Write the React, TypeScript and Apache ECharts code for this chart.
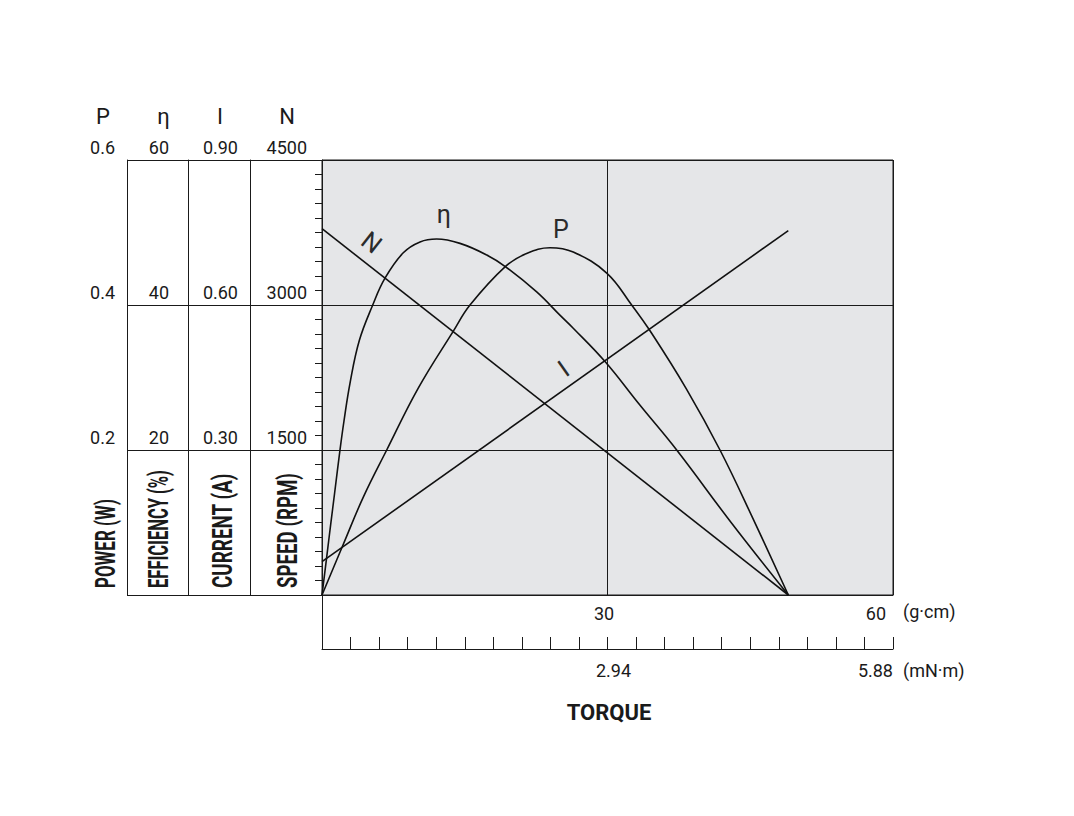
import React, { useEffect, useRef } from 'react';
import * as echarts from 'echarts';

// ---------- data (torque in g·cm) ----------
const speedTorque = [0, 49.0];
const speedRpm = [3790, 0];

const currentTorque = [0, 49.0];
const currentAmp = [0.069, 0.754];

const effTorque = [0, 0.49, 0.91, 1.33, 1.89, 2.31, 2.94, 3.92, 5.33, 6.62, 8.54, 10.3, 12.05, 14.5, 17.31, 19.26, 22.56, 25.0, 26.4, 29.74, 33.4, 37.27, 43.05, 49.0];
const effPct = [0, 5.2, 9.7, 14.1, 20.0, 24.0, 29.2, 35.1, 40.0, 43.7, 47.2, 48.7, 49.1, 48.5, 46.9, 45.3, 41.8, 38.6, 36.8, 32.2, 26.2, 20.0, 9.9, 0];

const powerTorque = [0, 2.24, 4.34, 6.8, 10.1, 13.8, 15.55, 19.26, 21.5, 23.96, 26.4, 29.92, 32.54, 34.64, 38.3, 41.82, 45.3, 49.0];
const powerW = [0, 0.07, 0.135, 0.2, 0.285, 0.364, 0.4, 0.453, 0.471, 0.479, 0.473, 0.444, 0.4, 0.361, 0.284, 0.2, 0.105, 0];

// tick labels
const gcmTickLabels: Record<number, string> = { 30: '30', 60: '60' };
const mNmTickLabels: Record<number, string> = { 30: '2.94', 60: '5.88' };
const axisHeads = ['P', 'η', 'I', 'N'];
const axisTitles = ['POWER (W)', 'EFFICIENCY (%)', 'CURRENT (A)', 'SPEED (RPM)'];
const unitGcm = '(g·cm)';
const unitMNm = '(mN·m)';
const xTitle = 'TORQUE';

// curve annotations: [text, torque, value]
const annN: [string, number, number] = ['N', 5.2, 3647];
const annEta: [string, number, number] = ['η', 12.8, 52.5];
const annP: [string, number, number] = ['P', 25.1, 0.504];
const annI: [string, number, number] = ['I', 25.4, 0.468];

export default function App() {
  const ref = useRef<HTMLDivElement>(null);

  useEffect(() => {
    if (!ref.current) return;
    const chart = echarts.init(ref.current, undefined, { renderer: 'svg' });

    const GL = 322, GT = 160, GW = 571, GH = 435;
    const GB = GT + GH;
    const AX2 = GB + 54; // second torque scale line
    const ink = '#1a1a1a';
    const font = 'Roboto, "Noto Sans", sans-serif';
    const lineStyle = { color: '#111', width: 1.6 };

    const zip = (xs: number[], ys: number[]) => xs.map((x, i) => [x, ys[i]]);

    const annot = (a: [string, number, number], rotate = 0) => ({
      silent: true,
      symbol: 'circle',
      symbolSize: 1,
      itemStyle: { color: 'rgba(0,0,0,0)' },
      label: {
        show: true,
        position: 'inside',
        formatter: a[0],
        color: '#2b2b2b',
        fontSize: 25,
        fontFamily: font,
        rotate,
      },
      data: [{ coord: [a[1], a[2]] }],
    });

    const yAx = (
      min: number, max: number, interval: number, offset: number,
      name: string, headPad: number, margin: number, fmt: (v: number) => string,
    ) => ({
      type: 'value',
      gridIndex: 0,
      position: 'left',
      min, max, interval, offset,
      name,
      nameLocation: 'end',
      nameGap: 44,
      nameMoveOverlap: false,
      nameTextStyle: {
        fontSize: 22, color: ink, fontFamily: font,
        align: 'center', verticalAlign: 'middle', padding: [0, headPad, 0, 0],
      },
      axisLine: { show: true, lineStyle: { color: ink, width: 1 } },
      axisTick: { show: false },
      splitLine: { show: false },
      axisLabel: {
        show: true, margin, color: ink, fontSize: 18, fontFamily: font,
        lineHeight: 26,
        formatter: (v: number) => (v === 0 ? '' : `${fmt(v)}\n `),
      },
    });

    const nAxis: any = yAx(0, 4500, 1500, 0, axisHeads[3], 70, 15, (v) => String(v));
    nAxis.axisTick = { show: true, length: 7, lineStyle: { color: ink } };
    nAxis.minorTick = { show: true, splitNumber: 10, length: 7, lineStyle: { color: ink } };
    nAxis.splitLine = { show: true, lineStyle: { color: ink, width: 1 } };

    // vertical titles in the boxes
    const titleFont = 'bold 27px Roboto';
    const ctx = document.createElement('canvas').getContext('2d')!;
    ctx.font = titleFont;
    const titleX = [106, 158.5, 223, 287.5];
    const titleLen = [89, 118, 115, 115];
    const titleEls = axisTitles.map((t, i) => {
      const w = ctx.measureText(t).width || titleLen[i];
      return {
        type: 'text',
        x: titleX[i],
        y: 588,
        rotation: Math.PI / 2,
        scaleX: titleLen[i] / w,
        style: { text: t, font: titleFont, fill: ink, align: 'left', verticalAlign: 'middle' },
      };
    });

    const rows = [GT, GT + GH / 3, GT + (2 * GH) / 3, GB];
    const rowLines = rows.map((y) => ({
      type: 'line',
      shape: { x1: 127, y1: Math.round(y) + 0.5, x2: GL, y2: Math.round(y) + 0.5 },
      style: { stroke: ink, lineWidth: 1 },
    }));

    const option: any = {
      animation: false,
      grid: [
        {
          left: GL, top: GT, width: GW, height: GH,
          show: true, backgroundColor: '#e5e6e8', borderColor: ink, borderWidth: 1,
          outerBoundsMode: 'none', containLabel: false,
        },
        {
          left: GL, top: AX2 - 12, width: GW, height: 12,
          show: false, outerBoundsMode: 'none', containLabel: false,
        },
      ],
      xAxis: [
        {
          type: 'value', gridIndex: 0, min: 0, max: 60, interval: 30, position: 'bottom',
          axisLine: { show: true, lineStyle: { color: ink, width: 1 } },
          axisTick: { show: false },
          splitLine: { show: true, lineStyle: { color: ink, width: 1 } },
          axisLabel: {
            margin: 9, fontSize: 18, color: ink, fontFamily: font,
            padding: [0, 7, 0, 0], alignMaxLabel: 'right',
            formatter: (v: number) => gcmTickLabels[v] ?? '',
          },
          name: ` \n${unitGcm}`, nameLocation: 'end', nameGap: 10, nameMoveOverlap: false,
          nameTextStyle: {
            fontSize: 18, color: ink, fontFamily: font, lineHeight: 32,
            align: 'left', verticalAlign: 'middle',
          },
        },
        {
          type: 'value', gridIndex: 1, min: 0, max: 60, interval: 3, position: 'bottom',
          axisLine: { show: true, lineStyle: { color: ink, width: 1 } },
          axisTick: { show: true, inside: true, length: 12, lineStyle: { color: ink } },
          splitLine: { show: false },
          axisLabel: {
            margin: 12, fontSize: 18, color: ink, fontFamily: font,
            padding: [0, 0, 0, 12], alignMaxLabel: 'right',
            formatter: (v: number) => mNmTickLabels[v] ?? '',
          },
          name: ` \n${unitMNm}`, nameLocation: 'end', nameGap: 10, nameMoveOverlap: false,
          nameTextStyle: {
            fontSize: 18, color: ink, fontFamily: font, lineHeight: 42,
            align: 'left', verticalAlign: 'middle',
          },
        },
      ],
      yAxis: [
        nAxis,
        yAx(0, 0.9, 0.3, 72, axisHeads[2], 60, 12, (v) => v.toFixed(2)),
        yAx(0, 60, 20, 134, axisHeads[1], 49, 19, (v) => String(v)),
        yAx(0, 0.6, 0.2, 195, axisHeads[0], 48, 12, (v) => v.toFixed(1)),
        { type: 'value', gridIndex: 1, min: 0, max: 1, show: false },
      ],
      series: [
        {
          type: 'line', xAxisIndex: 0, yAxisIndex: 0,
          data: zip(speedTorque, speedRpm), showSymbol: false, lineStyle,
          markPoint: annot(annN, -38),
        },
        {
          type: 'line', xAxisIndex: 0, yAxisIndex: 1,
          data: zip(currentTorque, currentAmp), showSymbol: false, lineStyle,
          markPoint: annot(annI, 35),
        },
        {
          type: 'line', xAxisIndex: 0, yAxisIndex: 2, smooth: 0.4,
          data: zip(effTorque, effPct), showSymbol: false, lineStyle,
          markPoint: annot(annEta),
        },
        {
          type: 'line', xAxisIndex: 0, yAxisIndex: 3, smooth: 0.4,
          data: zip(powerTorque, powerW), showSymbol: false, lineStyle,
          markPoint: annot(annP),
        },
      ],
      graphic: [
        ...rowLines,
        {
          type: 'line',
          shape: { x1: GL + 0.5, y1: GB, x2: GL + 0.5, y2: AX2 },
          style: { stroke: ink, lineWidth: 1 },
        },
        {
          type: 'text', x: 609, y: 712,
          style: { text: xTitle, font: 'bold 22px Roboto', fill: ink, align: 'center', verticalAlign: 'middle' },
        },
        ...titleEls,
      ],
    };

    chart.setOption(option);
    return () => chart.dispose();
  }, []);

  return (
    <div
      ref={ref}
      style={{ position: 'fixed', left: 0, top: 0, width: 1074, height: 816, background: '#fff' }}
    />
  );
}
